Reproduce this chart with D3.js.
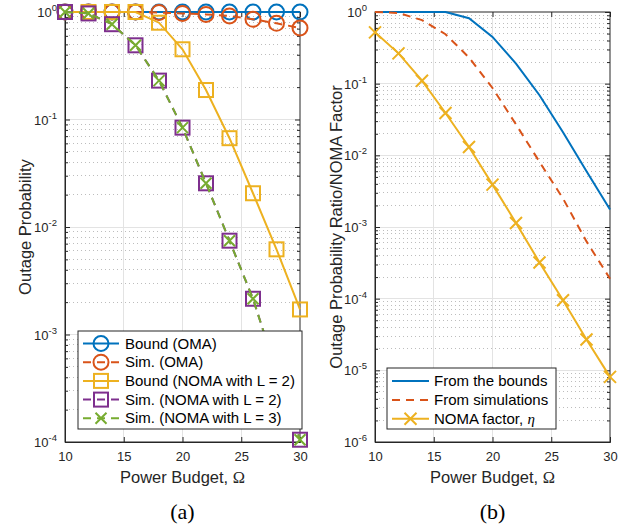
<!DOCTYPE html>
<html><head><meta charset="utf-8">
<script src="https://cdn.jsdelivr.net/npm/d3@7"></script>
<style>body{margin:0;background:#fff}</style>
</head><body><svg id="c" width="629" height="527"></svg>
<script>
const xs = [10,12,14,16,18,20,22,24,26,28,30];
// Panel (a)
const boundOMA = [1,1,1,1,1,1,1,1,1,1,1];
const simOMA = [1,1,1,1,0.99,0.97,0.95,0.92,0.855,0.785,0.71];
const boundNOMA2 = [1,1,1,1,0.795,0.45,0.188,0.067,0.0206,0.0062,0.00171];
const simNOMA2 = [1,0.97,0.77,0.49,0.23,0.084,0.0255,0.00746,0.00215,0.00045,0.000105];
const simNOMA3 = [1,0.97,0.77,0.49,0.23,0.084,0.0255,0.00746,0.00215,0.00045,0.000105];
// Panel (b)
const ratioBounds = [1,1,1,1,0.82,0.45,0.19,0.069,0.021,0.006,0.00175];
const ratioSims = [1,0.97,0.77,0.49,0.232,0.087,0.027,0.0081,0.0025,0.00063,0.00019];
const nomaFactor = [0.52,0.265,0.11,0.039,0.0131,0.0039,0.00114,0.00032,0.000095,0.000027,0.0000081];
const xTicks = [10,15,20,25,30];

const C = {blue:"#0072BD", red:"#D95319", yel:"#EDB120", pur:"#7E2F8E", grn:"#77AC30"};
const svg = d3.select("#c");
const sans = "'Liberation Sans', Arial, Helvetica, sans-serif";
const serif = "'Liberation Serif', 'Times New Roman', serif";
const DASH = "8,6";

function panel(opt){
  const x = d3.scaleLinear().domain([10,30]).range([opt.x0, opt.x1]);
  const y = d3.scaleLog().domain([opt.ymin,1]).range([442,12]);
  const g = svg.append("g");
  const decades = d3.range(Math.round(Math.log10(opt.ymin)), 1).map(e=>Math.pow(10,e));
  const minors = [];
  decades.slice(0,-1).forEach(d=>{ for(let k=2;k<=9;k++) minors.push(d*k); });
  g.selectAll(".myg").data(minors).join("line")
    .attr("x1",opt.x0).attr("x2",opt.x1).attr("y1",d=>y(d)).attr("y2",d=>y(d))
    .attr("stroke","#bdbdbd").attr("stroke-width",1).attr("stroke-dasharray","1,3").attr("shape-rendering","crispEdges");
  g.selectAll(".yg").data(decades.slice(1,-1)).join("line")
    .attr("x1",opt.x0).attr("x2",opt.x1).attr("y1",d=>y(d)).attr("y2",d=>y(d))
    .attr("stroke","#e3e3e3").attr("stroke-width",1).attr("shape-rendering","crispEdges");
  g.selectAll(".xg").data(xTicks.slice(1,-1)).join("line")
    .attr("y1",12).attr("y2",442).attr("x1",d=>x(d)).attr("x2",d=>x(d))
    .attr("stroke","#e3e3e3").attr("stroke-width",1).attr("shape-rendering","crispEdges");
  const axC = "#262626";
  const ax = g.append("g").attr("transform","translate(0,442)")
    .call(d3.axisBottom(x).tickValues(xTicks).tickSize(-5).tickPadding(10).tickFormat(d3.format("d")));
  const axT = g.append("g").attr("transform","translate(0,12)")
    .call(d3.axisTop(x).tickValues(xTicks).tickSize(-5).tickFormat(""));
  const ayL = g.append("g").attr("transform",`translate(${opt.x0},0)`)
    .call(d3.axisLeft(y).tickValues(decades).tickSize(-5).tickFormat(""));
  const ayR = g.append("g").attr("transform",`translate(${opt.x1},0)`)
    .call(d3.axisRight(y).tickValues(decades).tickSize(-5).tickFormat(""));
  const myL = g.append("g").attr("transform",`translate(${opt.x0},0)`)
    .call(d3.axisLeft(y).tickValues(minors).tickSize(-3).tickFormat(""));
  const myR = g.append("g").attr("transform",`translate(${opt.x1},0)`)
    .call(d3.axisRight(y).tickValues(minors).tickSize(-3).tickFormat(""));
  [ax,axT,ayL,ayR,myL,myR].forEach(a=>{
    a.selectAll("path").attr("stroke",axC).attr("stroke-width",1);
    a.selectAll("line").attr("stroke",axC);
  });
  [axT,ayR,myL,myR].forEach(a=>a.select("path").remove());
  ax.selectAll("text").attr("fill",axC).attr("font-family",sans).attr("font-size",13);
  g.append("rect").attr("x",opt.x0).attr("y",12).attr("width",opt.x1-opt.x0).attr("height",430)
    .attr("fill","none").attr("stroke",axC).attr("stroke-width",1);
  decades.forEach(d=>{
    const e = Math.round(Math.log10(d));
    const t = g.append("text").attr("x",opt.x0-8).attr("y",y(d)+5).attr("text-anchor","end")
      .attr("font-family",sans).attr("fill",axC);
    t.append("tspan").attr("font-size",13).text("10");
    t.append("tspan").attr("font-size",9.5).attr("dy",-6).text(String(e));
  });
  const xt = g.append("text").attr("x",(opt.x0+opt.x1)/2).attr("y",483).attr("text-anchor","middle")
    .attr("font-family",sans).attr("font-size",16.5).attr("fill",axC);
  xt.append("tspan").text("Power Budget,  ");
  xt.append("tspan").attr("font-family",serif).text("Ω");
  svg.append("text").attr("transform",`translate(${opt.ylx},227) rotate(-90)`).attr("text-anchor","middle")
    .attr("font-family",sans).attr("font-size",16.5).attr("fill",axC).text(opt.ylabel);
  svg.append("text").attr("x",(opt.x0+opt.x1)/2).attr("y",519).attr("text-anchor","middle")
    .attr("font-family",serif).attr("font-size",22).attr("fill","#000").text(opt.cap);
  return {x,y,g};
}

function drawMarker(sel, type, color, cx, cy, s){
  if(type==="o") sel.append("circle").attr("cx",cx).attr("cy",cy).attr("r",s)
    .attr("fill","none").attr("stroke",color).attr("stroke-width",2);
  else if(type==="s") sel.append("rect").attr("x",cx-s).attr("y",cy-s).attr("width",2*s).attr("height",2*s)
    .attr("fill","none").attr("stroke",color).attr("stroke-width",2);
  else if(type==="x") sel.append("path").attr("d",`M${cx-s},${cy-s}L${cx+s},${cy+s}M${cx-s},${cy+s}L${cx+s},${cy-s}`)
    .attr("fill","none").attr("stroke",color).attr("stroke-width",2);
}

function series(p, vals, color, dash, marker, msize){
  const line = d3.line().x((d,i)=>p.x(xs[i])).y(d=>p.y(d));
  p.g.append("path").datum(vals).attr("d",line).attr("fill","none").attr("stroke",color)
    .attr("stroke-width",2).attr("stroke-dasharray",dash||null);
  if(marker){
    const mg = p.g.append("g");
    vals.forEach((v,i)=>drawMarker(mg, marker, color, p.x(xs[i]), p.y(v), msize));
  }
}

const pa = panel({x0:65,x1:300,ymin:1e-4,ylx:31,ylabel:"Outage Probability",cap:"(a)"});
series(pa, boundOMA, C.blue, null, "o", 7.5);
series(pa, simOMA, C.red, DASH, "o", 7.5);
series(pa, boundNOMA2, C.yel, null, "s", 7);
series(pa, simNOMA2, C.pur, DASH, "s", 7);
series(pa, simNOMA3, C.grn, DASH, "x", 5.5);

const pb = panel({x0:375,x1:610,ymin:1e-6,ylx:342,ylabel:"Outage Probability Ratio/NOMA Factor",cap:"(b)"});
series(pb, ratioBounds, C.blue, null, null);
series(pb, ratioSims, C.red, DASH, null);
series(pb, nomaFactor, C.yel, null, "x", 6);

function legend(x0,y0,w,h,rows,rowY0,rowDy,lineX0,lineX1,textX,fs){
  const lg = svg.append("g");
  lg.append("rect").attr("x",x0).attr("y",y0).attr("width",w).attr("height",h)
    .attr("fill","#fff").attr("stroke","#262626").attr("stroke-width",1);
  rows.forEach((r,i)=>{
    const yy = rowY0+i*rowDy;
    lg.append("line").attr("x1",lineX0).attr("x2",lineX1).attr("y1",yy).attr("y2",yy)
      .attr("stroke",r.c).attr("stroke-width",2).attr("stroke-dasharray",r.dash||null);
    if(r.m) drawMarker(lg, r.m, r.c, (lineX0+lineX1)/2, yy, r.s);
    const t = lg.append("text").attr("x",textX).attr("y",yy+5).attr("font-family",sans)
      .attr("font-size",fs).attr("fill","#000");
    t.append("tspan").text(r.t);
    if(r.t2) t.append("tspan").attr("font-family",serif).attr("font-style","italic").text(r.t2);
  });
}
legend(78,331,224,98,[
  {t:"Bound (OMA)",c:C.blue,m:"o",s:7.5},
  {t:"Sim. (OMA)",c:C.red,m:"o",s:7.5,dash:DASH},
  {t:"Bound (NOMA with L = 2)",c:C.yel,m:"s",s:7},
  {t:"Sim. (NOMA with L = 2)",c:C.pur,m:"s",s:7,dash:DASH},
  {t:"Sim. (NOMA with L = 3)",c:C.grn,m:"x",s:5.5,dash:DASH}
],343.5,18.7,83,119,125,15);
legend(387,368,169,61,[
  {t:"From the bounds",c:C.blue},
  {t:"From simulations",c:C.red,dash:DASH},
  {t:"NOMA factor,  ",t2:"η",c:C.yel,m:"x",s:6}
],381,18.9,392,429,434,15);
</script></body></html>
